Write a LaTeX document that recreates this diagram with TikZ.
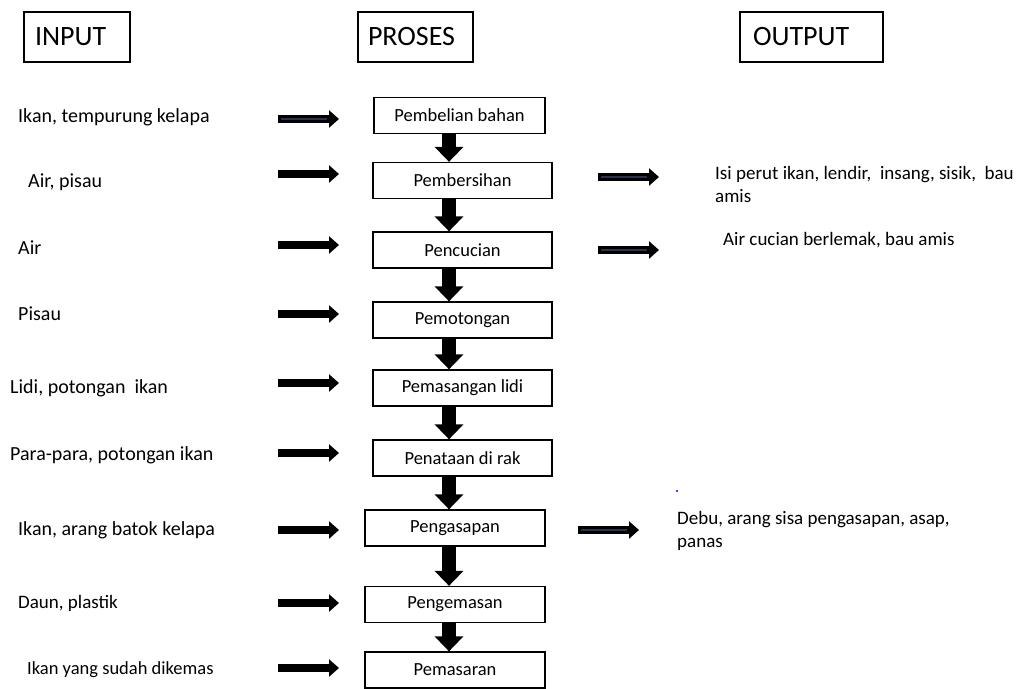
\documentclass[tikz,border=0pt]{standalone}
\usepackage{fontspec}
\setmainfont{Carlito}
\usetikzlibrary{arrows.meta,calc}
\definecolor{navyin}{RGB}{40,52,75}
\begin{document}
\begin{tikzpicture}[x=1pt,y=-1pt,
 hdr/.style={draw,line width=1.3pt,minimum height=50pt,font=\fontsize{28}{32}\selectfont,inner ysep=0pt,align=left},
 proc/.style={draw,line width=1.3pt,minimum height=36pt,font=\fontsize{18.5}{22}\selectfont,inner sep=0pt},
 lbl/.style={anchor=west,font=\fontsize{20}{23}\selectfont,inner sep=0pt,align=left},
 olbl/.style={anchor=west,font=\fontsize{19}{23}\selectfont,inner sep=0pt,align=left},
 down/.style={line width=14pt,-{Triangle[length=15pt,width=28pt]}},
 hin/.style={line width=8pt,-{Triangle[length=10pt,width=17pt]}},
 hout/.style={hin,postaction={draw=navyin,line width=2.2pt,-,shorten <=3pt,shorten >=12pt}},
]
\useasboundingbox (0,0) rectangle (1022,688);
% headers
\node[hdr,text width=84pt,inner xsep=11pt] (hin) at (77,37) {INPUT};
\node[hdr,text width=95pt,inner xsep=10pt] (hpr) at (415.5,37) {PROSES};
\node[hdr,text width=117pt,inner xsep=13pt] (hou) at (811.5,37) {OUTPUT};
% process boxes
\node[proc,minimum width=171pt] (p1) at (459.5,115.5) {Pembelian bahan};
\node[proc,minimum width=179pt] (p2) at (462.5,180.5) {Pembersihan};
\node[proc,minimum width=179pt] (p3) at (462.5,250) {Pencucian};
\node[proc,minimum width=179pt] (p4) at (462.5,320) {Pemotongan};
\node[proc,minimum width=179pt] (p5) at (462.5,388) {Pemasangan lidi};
\node[proc,minimum width=179pt] (p6) at (462.5,458) {Penataan di rak};
\node[proc,minimum width=180pt] (p7) at (455,528) {Pengasapan};
\node[proc,minimum width=180pt] (p8) at (455,604.5) {Pengemasan};
\node[proc,minimum width=180pt] (p9) at (455,670) {Pemasaran};
\coordinate (ax) at (449,0);
\foreach \a/\b in {p1/p2,p2/p3,p3/p4,p4/p5,p5/p6,p6/p7,p7/p8,p8/p9}
  \draw[down] (\a.south -| ax) -- (\b.north -| ax);
% input labels
\node[lbl] (i1) at (18,117) {Ikan, tempurung kelapa};
\node[lbl] (i2) at (28,182) {Air, pisau};
\node[lbl] (i3) at (18,248) {Air};
\node[lbl] (i4) at (18,314) {Pisau};
\node[lbl] (i5) at (10,388) {Lidi, potongan\ \ ikan};
\node[lbl] (i6) at (10,455) {Para-para, potongan ikan};
\node[lbl] (i7) at (18,530) {Ikan, arang batok kelapa};
\node[lbl,font=\fontsize{19}{23}\selectfont] (i8) at (18,603) {Daun, plastik};
\node[lbl,font=\fontsize{18.5}{23}\selectfont] (i9) at (27,670) {Ikan yang sudah dikemas};
% input arrows
\draw[hout] (278,119) -- (339,119);
\foreach \y in {174,245,314,383,453,530,603,668}
  \draw[hin] (278,\y) -- (339,\y);
% output arrows
\draw[hout] (598,177) -- (659,177);
\draw[hout] (598,250) -- (659,250);
\draw[hout] (578,530) -- (639,530);
% output labels
\node[olbl] (o1) at (715,184.5) {Isi perut ikan, lendir,\ \ insang, sisik,\ \ bau\\amis};
\node[olbl] (o2) at (723,240) {Air cucian berlemak, bau amis};
\node[olbl] (o3) at (677,531) {Debu, arang sisa pengasapan, asap,\\panas};
\fill[blue] (677,491) circle (1.2pt);
\end{tikzpicture}
\end{document}
